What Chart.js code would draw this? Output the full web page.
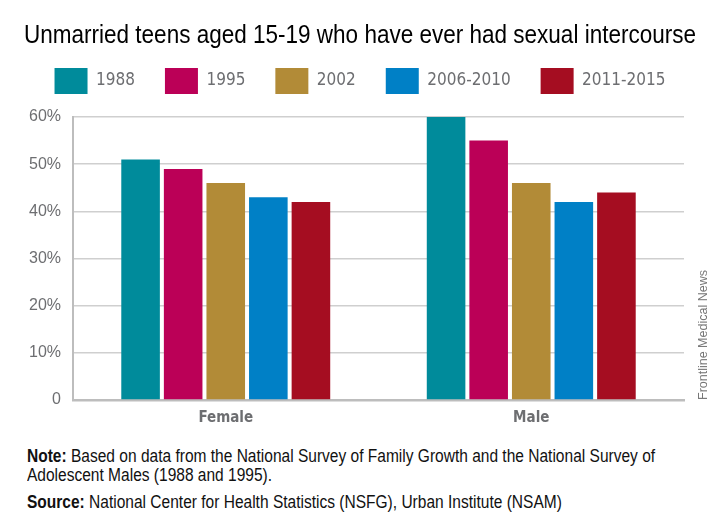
<!DOCTYPE html>
<html>
<head>
    <title>Unmarried teens aged 15-19</title>
    <script src="https://cdn.jsdelivr.net/npm/chart.js"></script>
    <style>
        body {
            margin: 0;
            background: #fff;
            width: 720px;
            height: 528px;
            position: relative;
            overflow: hidden;
        }
        #chart-wrap {
            position: absolute;
            left: 0;
            top: 0;
            width: 720px;
            height: 430px;
        }
        .notes {
            position: absolute;
            left: 27px;
            top: 447px;
            width: 780px;
            transform-origin: 0 0;
            transform: scaleX(0.887);
            font-family: "Liberation Sans", Arial, sans-serif;
            font-size: 17.5px;
            color: #111;
            line-height: 19px;
        }
        .notes p { margin: 0; }
        .notes .source { margin-top: 8px; }
        .credit {
            position: absolute;
            left: 703px;
            top: 400px;
            transform-origin: 0 0;
            transform: rotate(-90deg) translateY(-50%);
            font-family: "Liberation Sans", Arial, sans-serif;
            font-size: 12.5px;
            color: #777;
            white-space: nowrap;
        }
    </style>
</head>
<body>
    <div id="chart-wrap">
        <canvas id="teensChart" width="720" height="430"></canvas>
    </div>
    <div class="notes">
        <p><b>Note:</b> Based on data from the National Survey of Family Growth and the National Survey of<br>Adolescent Males (1988 and 1995).</p>
        <p class="source"><b>Source:</b> National Center for Health Statistics (NSFG), Urban Institute (NSAM)</p>
    </div>
    <div class="credit">Frontline Medical News</div>

    <script>
        // data
        const categories = ['Female', 'Male'];
        const periods = ['1988', '1995', '2002', '2006-2010', '2011-2015'];
        const colors = ['#008b9b', '#bb0057', '#b28b37', '#0080c6', '#a50d21'];
        const v1988 = [51, 60];
        const v1995 = [49, 55];
        const v2002 = [46, 46];
        const v2006 = [43, 42];
        const v2011 = [42, 44];
        const yTickLabels = ['0', '10%', '20%', '30%', '40%', '50%', '60%'];

        const seriesValues = [v1988, v1995, v2002, v2006, v2011];
        const condensed = '"DejaVu Sans Condensed", "Liberation Sans", sans-serif';

        // side padding 24 keeps the title box 672px wide (title text is squeezed to that)
        const sidePad = 24;

        const ctx = document.getElementById('teensChart').getContext('2d');
        const chart = new Chart(ctx, {
            type: 'bar',
            data: {
                labels: categories,
                datasets: periods.map((p, i) => ({
                    label: p,
                    data: seriesValues[i],
                    backgroundColor: colors[i],
                    borderWidth: 0,
                    barPercentage: 0.906,
                    categoryPercentage: 0.697
                }))
            },
            options: {
                responsive: false,
                animation: false,
                layout: {
                    padding: { left: sidePad, right: sidePad, top: 0, bottom: 0 }
                },
                plugins: {
                    title: {
                        display: true,
                        text: 'Unmarried teens aged 15-19 who have ever had sexual intercourse',
                        color: '#000',
                        font: { family: '"Liberation Sans", Arial, sans-serif', size: 25, weight: 'normal' },
                        padding: { top: 21, bottom: -13 }
                    },
                    legend: {
                        display: true,
                        labels: {
                            boxWidth: 33,
                            boxHeight: 26,
                            padding: 30,
                            color: '#6d6e71',
                            font: { family: condensed, size: 17 }
                        }
                    },
                    tooltip: { enabled: false }
                },
                scales: {
                    x: {
                        grid: { display: false, drawTicks: false },
                        border: { display: true, color: '#bdbdbd', width: 2.5 },
                        ticks: {
                            color: '#6d6e71',
                            padding: 9,
                            font: { family: condensed, size: 15, weight: 'bold' }
                        },
                        afterFit: function(scale) { scale.height = 30; }
                    },
                    // empty spacer axes so the plot area sits where the reference has it
                    xTop: {
                        type: 'category',
                        position: 'top',
                        grid: { display: false, drawTicks: false },
                        border: { display: false },
                        ticks: { display: false },
                        afterFit: function(scale) { scale.height = 13; }
                    },
                    y: {
                        min: 0,
                        max: 60,
                        grid: { color: '#cfcfcf', lineWidth: 1.5, drawTicks: false },
                        border: { display: true, color: '#bdbdbd', width: 2 },
                        ticks: {
                            stepSize: 10,
                            padding: 12,
                            color: '#6d6e71',
                            font: { family: '"Liberation Sans", Arial, sans-serif', size: 16 },
                            callback: function(value, index) {
                                return yTickLabels[index];
                            }
                        },
                        afterFit: function(scale) { scale.width = 73 - sidePad; }
                    },
                    yRight: {
                        type: 'linear',
                        position: 'right',
                        grid: { display: false, drawTicks: false },
                        border: { display: false },
                        ticks: { display: false },
                        afterFit: function(scale) { scale.width = 36 - sidePad; }
                    }
                }
            }
        });
    </script>
</body>
</html>
